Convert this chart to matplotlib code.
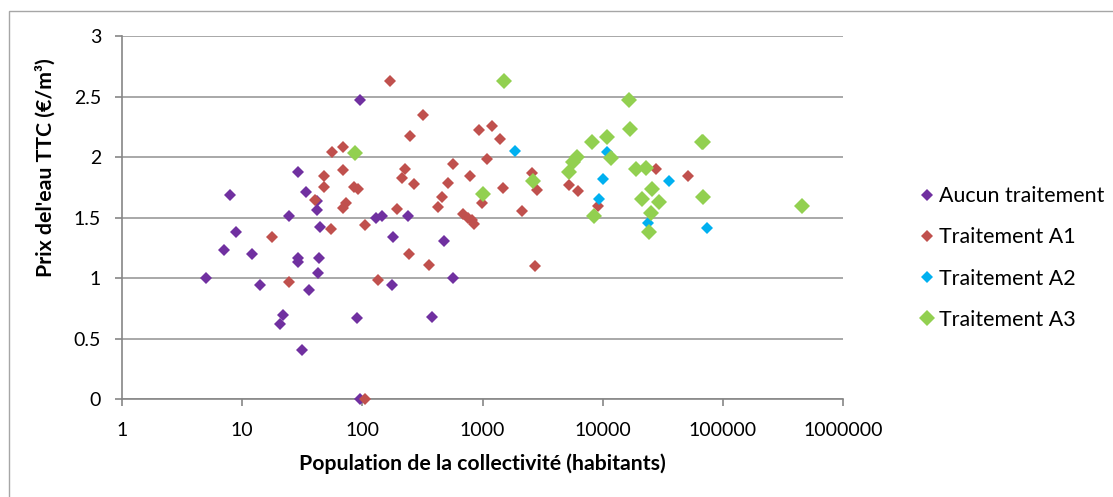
import matplotlib
matplotlib.use("Agg")
import matplotlib.pyplot as plt
from matplotlib.patches import Rectangle
from matplotlib.ticker import FixedLocator, FixedFormatter, NullLocator

plt.rcParams['font.family'] = ['Lato', 'DejaVu Sans']

# ---- data ----
aucun_pop = [95, 7.9, 28.9, 34, 41.7, 41.7, 24.6, 8.9, 44.4, 7.0, 12.0, 28.9, 28.9,
             43.8, 43, 5.0, 14.1, 35.7, 21.9, 20.7, 89.7, 31.6, 95, 131, 145, 241,
             181, 477, 175, 570, 382]
aucun_prix = [2.47, 1.69, 1.88, 1.71, 1.64, 1.56, 1.51, 1.38, 1.42, 1.23, 1.20, 1.17, 1.13,
              1.17, 1.04, 1.00, 0.945, 0.905, 0.70, 0.62, 0.67, 0.41, 0.0, 1.50, 1.51, 1.515,
              1.34, 1.31, 0.94, 1.00, 0.68]

a1_pop = [56, 69.4, 47.9, 47.9, 69.4, 86, 92, 40.1, 73, 69.4, 54.8, 106, 17.8, 24.6, 104.5,
          170, 319, 249, 226, 212, 269, 193, 244, 358, 134, 570, 519, 462, 428, 785, 939,
          1197, 1403, 1094, 1469, 988, 691, 760, 811, 848, 2115, 2729, 2561, 2820, 5265,
          6250, 9180, 27540, 51440]
a1_prix = [2.04, 2.08, 1.84, 1.755, 1.89, 1.75, 1.74, 1.645, 1.625, 1.58, 1.41, 1.44, 1.34, 0.97, 0.0,
           2.625, 2.344, 2.176, 1.90, 1.83, 1.78, 1.57, 1.20, 1.11, 0.985, 1.94, 1.79, 1.67, 1.59, 1.845, 2.226,
           2.253, 2.151, 1.983, 1.744, 1.62, 1.53, 1.50, 1.48, 1.45, 1.554, 1.104, 1.868, 1.73, 1.771,
           1.716, 1.60, 1.90, 1.845]

a2_pop = [1871, 10770, 10090, 9350, 23640, 35530, 73180]
a2_prix = [2.052, 2.038, 1.821, 1.653, 1.455, 1.804, 1.418]

a3_pop = [86.8, 1516, 1002, 2620, 16520, 16840, 8180, 10770, 11800, 6065, 5620, 5250,
          8490, 18780, 22740, 25520, 21080, 29510, 25180, 24380, 66500, 68700, 68700, 451600]
a3_prix = [2.035, 2.631, 1.694, 1.80, 2.474, 2.234, 2.124, 2.17, 1.99, 2.00, 1.96, 1.88,
           1.515, 1.901, 1.909, 1.736, 1.655, 1.628, 1.542, 1.385, 2.124, 2.124, 1.674, 1.60]

series_names = ["Aucun traitement", "Traitement A1", "Traitement A2", "Traitement A3"]
series_colors = ["#7030A0", "#C0504D", "#00B0F0", "#92D050"]

x_ticks = [1, 10, 100, 1000, 10000, 100000, 1000000]
x_ticklabels = ["1", "10", "100", "1000", "10000", "100000", "1000000"]
y_ticks = [0, 0.5, 1, 1.5, 2, 2.5, 3]
y_ticklabels = ["0", "0.5", "1", "1.5", "2", "2.5", "3"]

# ---- figure ----
W, H = 1113, 497
fig = plt.figure(figsize=(W / 100, H / 100), dpi=100)
fig.patch.set_facecolor("white")

# outer chart border
fig.patches.append(Rectangle((9 / W, 0 - 0.01), 1.02, 1 - 11 / H + 0.01,
                             transform=fig.transFigure, fill=False,
                             edgecolor="#A6A6A6", linewidth=1.0))

ax = fig.add_axes([122 / W, 1 - 399.3 / H, (843 - 122) / W, (399.3 - 36) / H])

data = [(aucun_pop, aucun_prix), (a1_pop, a1_prix), (a2_pop, a2_prix), (a3_pop, a3_prix)]
sizes = [5.8, 5.8, 5.8, 8.2]
for (xs, ys), name, col, ms in zip(data, series_names, series_colors, sizes):
    ax.plot(xs, ys, linestyle="none", marker="D", markersize=ms, color=col,
            markeredgewidth=0, label=name, zorder=3, clip_on=False)

ax.set_xscale("log")
ax.set_xlim(1, 1000000)
ax.set_ylim(0, 3)

ax.xaxis.set_major_locator(FixedLocator(x_ticks))
ax.xaxis.set_major_formatter(FixedFormatter(x_ticklabels))
ax.xaxis.set_minor_locator(NullLocator())
ax.yaxis.set_major_locator(FixedLocator(y_ticks))
ax.yaxis.set_major_formatter(FixedFormatter(y_ticklabels))

for s in ["top", "right"]:
    ax.spines[s].set_visible(False)
for s in ["left", "bottom"]:
    ax.spines[s].set_color("#868686")
    ax.spines[s].set_linewidth(1.2)

ax.yaxis.grid(True, color="#9A9A9A", linewidth=1.2, zorder=0)
ax.set_axisbelow(True)

ax.tick_params(axis="both", direction="out", length=5, width=1.2, color="#868686",
               labelsize=14, labelcolor="black")
ax.tick_params(axis="y", pad=10)
ax.tick_params(axis="x", pad=11.5)

ax.set_xlabel("Population de la collectivité (habitants)", fontsize=15.3,
              fontweight="bold", labelpad=10)
ax.set_ylabel("Prix del'eau TTC (€/m³)", fontsize=15.3, fontweight="bold")
ax.yaxis.set_label_coords(-0.092, 0.637)

leg = fig.legend(loc="center left", bbox_to_anchor=(918.4 / W, 1 - 258 / H),
                 frameon=False, fontsize=15.4, labelspacing=0.99, handletextpad=0.16,
                 handlelength=0.8, borderaxespad=0, borderpad=0, markerscale=1.0)

fig.savefig("out.png", dpi=100)
